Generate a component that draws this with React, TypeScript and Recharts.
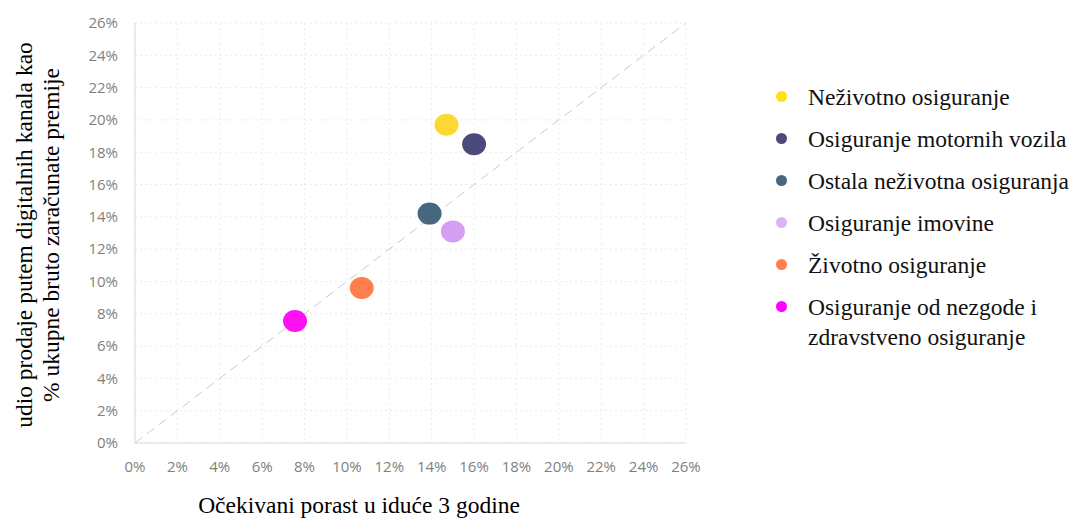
import React from 'react';
import { ScatterChart, Scatter, XAxis, YAxis, CartesianGrid, ReferenceLine } from 'recharts';

const seriesNames = [
  'Neživotno osiguranje',
  'Osiguranje motornih vozila',
  'Ostala neživotna osiguranja',
  'Osiguranje imovine',
  'Životno osiguranje',
  'Osiguranje od nezgode i zdravstveno osiguranje'
];
const growthX = [14.7, 16.0, 13.9, 15.0, 10.7, 7.55];
const shareY = [19.7, 18.5, 14.2, 13.1, 9.6, 7.55];
const seriesColors = ['#FDD835', '#4B4A7A', '#46677F', '#D59EF3', '#FF7F4C', '#FF10F0'];
const legendColors = ['#FFE01A', '#4B4A7A', '#46677F', '#DDB2F7', '#FF7F4C', '#FF00FF'];
const ticks = [0, 2, 4, 6, 8, 10, 12, 14, 16, 18, 20, 22, 24, 26];
const diagonal = [{ x: 0, y: 0 }, { x: 26, y: 26 }];

const fmt = (v: number) => `${v}%`;

const Dot = (props: any) => {
  const { cx, cy, fill } = props;
  return <ellipse cx={cx} cy={cy} rx={12} ry={11} fill={fill} />;
};

export default function App() {
  const tickStyle = { fill: '#7f7f7f', fontSize: 15, fontFamily: 'Open Sans, sans-serif' };
  return <div style={{ position: 'relative', width: 1074, height: 521, background: '#fff', fontFamily: '"Liberation Serif", serif' }}>
      <style>{'body{margin:0}'}</style>
      <ScatterChart width={1074} height={521} margin={{ top: 23, right: 388, bottom: 48, left: 85 }}>
        <CartesianGrid strokeDasharray="2 3" stroke="#ebebeb" />
        <XAxis type="number" dataKey="x" domain={[0, 26]} ticks={ticks} tickFormatter={fmt} tick={tickStyle} tickLine={false} tickSize={0} tickMargin={18} axisLine={{ stroke: '#d9d9d9' }} height={30} interval={0} />
        <YAxis type="number" dataKey="y" domain={[0, 26]} ticks={ticks} tickFormatter={fmt} tick={tickStyle} tickLine={false} tickSize={0} tickMargin={17} axisLine={{ stroke: '#d9d9d9' }} width={50} interval={0} />
        <ReferenceLine segment={diagonal} stroke="#cbc4d8" strokeDasharray="9 6" strokeWidth={1} />
        {seriesNames.map((name, i) => <Scatter key={name} name={name} data={[{ x: growthX[i], y: shareY[i] }]} fill={seriesColors[i]} shape={Dot} isAnimationActive={false} />)}
      </ScatterChart>
      <div style={{ position: 'absolute', left: 0, top: 0, width: 80, height: 470 }}>
        <div style={{ position: 'absolute', left: 38, top: 235, transform: 'translate(-50%, -50%) rotate(-90deg)', whiteSpace: 'nowrap', textAlign: 'center', fontSize: 23.5, lineHeight: '27px', color: '#000' }}>
          udio prodaje putem digitalnih kanala kao<br />% ukupne bruto zaračunate premije
        </div>
      </div>
      <div style={{ position: 'absolute', left: 359, top: 505, transform: 'translate(-50%, -50%)', whiteSpace: 'nowrap', fontSize: 23.5, color: '#000' }}>
        Očekivani porast u iduće 3 godine
      </div>
      <div style={{ position: 'absolute', left: 776, top: 82 }}>
        {seriesNames.map((name, i) => <div key={name} style={{ display: 'flex', alignItems: 'flex-start', marginBottom: 12 }}>
            <span style={{ display: 'inline-block', width: 11, height: 11, borderRadius: '50%', background: legendColors[i], marginTop: 9, marginRight: 21, flexShrink: 0 }} />
            <span style={{ fontSize: 23.5, lineHeight: '30px', color: '#111', width: 262 }}>{name}</span>
          </div>)}
      </div>
    </div>;
}
